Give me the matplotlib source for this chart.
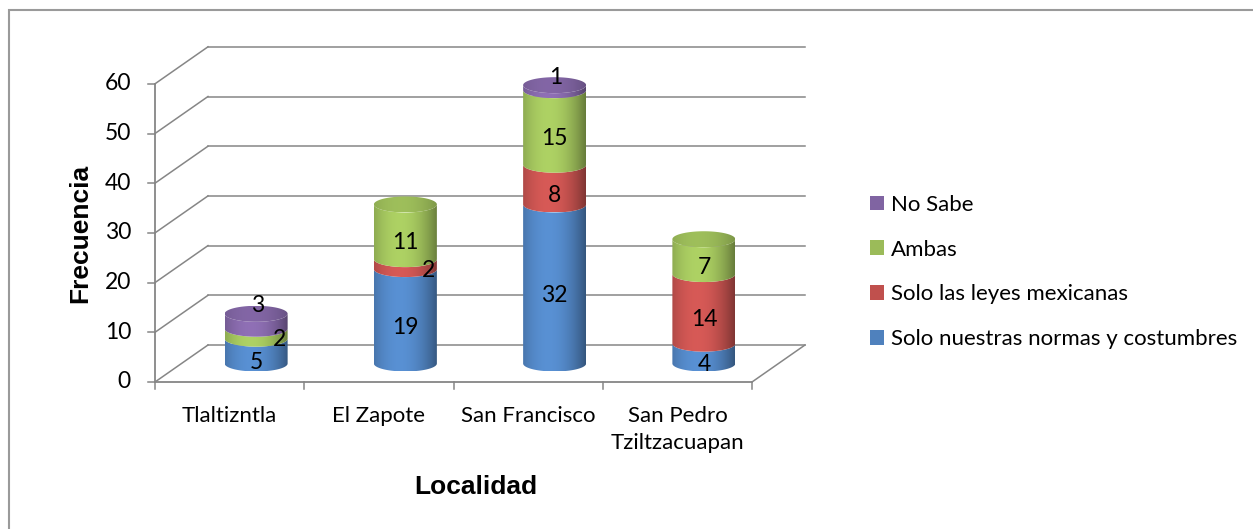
import numpy as np
import matplotlib
matplotlib.use("Agg")
import matplotlib.pyplot as plt
from matplotlib.patches import Polygon, Patch, Rectangle
from matplotlib.colors import to_rgb

# datos
localidades = ["Tlaltizntla", "El Zapote", "San Francisco", "San Pedro\nTziltzacuapan"]
solo_normas = [5, 19, 32, 4]
solo_leyes = [0, 2, 8, 14]
ambas = [2, 11, 15, 7]
no_sabe = [3, 0, 1, 0]

series = ["Solo nuestras normas y costumbres", "Solo las leyes mexicanas", "Ambas", "No Sabe"]
colores = ["#4F81BD", "#C0504D", "#9BBB59", "#8064A2"]
yticks = [0, 10, 20, 30, 40, 50, 60]

plt.rcParams['font.family'] = ['Lato', 'DejaVu Sans']

W, H = 1253, 529
# escala en pixeles del plano frontal
X0, CAT_W = 155.0, 149.25
Y0, UNIT = 382.0, 4.97
DX = 53 / CAT_W          # profundidad en x
DV = 37 / UNIT           # profundidad en y
R = 31.5 / CAT_W         # radio del cilindro
B = 8 / UNIT             # semieje de la elipse
GRID = "#868686"

fig = plt.figure(figsize=(W / 100, H / 100), dpi=100)
ax = fig.add_axes([0, 0, 1, 1])
xlim = (-X0 / CAT_W - 0.5, (W - X0) / CAT_W - 0.5)
ylim = ((Y0 - H) / UNIT, Y0 / UNIT)


def px_y(y):
    return (Y0 - y) / UNIT


# paredes y rejilla
for t in yticks:
    ax.plot([-0.5 + DX, 3.5 + DX], [t + DV, t + DV], color=GRID, lw=1.1, zorder=1)
    ax.plot([-0.5, -0.5 + DX], [t, t + DV], color=GRID, lw=1.1, zorder=1)
    ax.plot([-0.5 - 7 / CAT_W, -0.5], [t, t], color=GRID, lw=1.1, zorder=1)
    ax.text(-0.5 - 24 / CAT_W, t, str(t), ha="right", va="center", fontsize=16.5)
ax.plot([-0.5, -0.5], [0, 60], color=GRID, lw=1.3, zorder=1)
ax.plot([-0.5, 3.5], [0, 0], color=GRID, lw=1.3, zorder=1)
ax.plot([3.5, 3.5 + DX], [0, DV], color=GRID, lw=1.1, zorder=1)
for k in range(5):
    ax.plot([-0.5 + k, -0.5 + k], [0, -7 / UNIT], color=GRID, lw=1.1, zorder=1)

for i, nombre in enumerate(localidades):
    ax.text(i, px_y(406), nombre, ha="center", va="top", fontsize=16, linespacing=1.45)


def sombra(color, n=200, alto=1.12, caida=0.32):
    t = np.linspace(-1, 1, n)
    f = alto - caida * (t + 0.2) ** 2
    c = np.array(to_rgb(color))
    arr = np.clip(c[None, :] * f[:, None], 0, 1)
    return arr[None, :, :]


def pintar(xy, color, extent, z, **kw):
    poly = Polygon(xy, closed=True, transform=ax.transData, facecolor="none", edgecolor="none")
    ax.add_patch(poly)
    im = ax.imshow(sombra(color, **kw), extent=extent, aspect="auto", origin="lower",
                   zorder=z, interpolation="bilinear")
    im.set_clip_path(poly)


tabla = np.array([solo_normas, solo_leyes, ambas, no_sabe])
th_low = np.linspace(np.pi, 2 * np.pi, 80)
th_full = np.linspace(0, 2 * np.pi, 160)

for i in range(len(localidades)):
    cx = i + DX / 2
    base = DV / 2
    vals = tabla[:, i]
    total = vals.sum()
    ultimo = max(j for j in range(4) if vals[j] > 0)
    acum = 0
    for j in range(4):
        v = vals[j]
        if v == 0:
            continue
        v0, v1 = acum + base, acum + v + base
        xs = cx + R * np.cos(th_low)
        ys = np.sin(th_low) * B
        xy = np.concatenate([np.column_stack([xs, v0 + ys]),
                             np.column_stack([xs[::-1], v1 + ys[::-1]])])
        pintar(xy, colores[j], [cx - R, cx + R, v0 - B, v1 + B], 3)

        # etiqueta
        if j == ultimo and v <= 3:
            ax.annotate(str(v), (cx, v1 + B), xytext=(1, 0), textcoords="offset points",
                        ha="center", va="center", fontsize=16.5, zorder=10)
        elif v <= 2:
            ax.annotate(str(v), (cx, v0 + v / 2), xytext=(17, -4.5), textcoords="offset points",
                        ha="center", va="center", fontsize=16.5, zorder=10)
        else:
            ax.annotate(str(v), (cx, v0 + v / 2), xytext=(0, -8), textcoords="offset points",
                        ha="center", va="center", fontsize=16.5, zorder=10)
        acum += v
    # tapa
    vt = total + base
    xy = np.column_stack([cx + R * np.cos(th_full), vt + B * np.sin(th_full)])
    pintar(xy, colores[ultimo], [cx - R, cx + R, vt - B, vt + B], 4, alto=1.02, caida=0.15)

ax.set_xlim(*xlim)
ax.set_ylim(*ylim)
ax.axis("off")

# titulos de ejes
fig.text(476 / W, 1 - 487 / H, "Localidad", ha="center", va="center", fontsize=19,
         fontweight="bold", family="Liberation Sans")
fig.text(80 / W, 1 - 233 / H, "Frecuencia", ha="center", va="center", fontsize=19,
         fontweight="bold", family="Liberation Sans", rotation=90)

# leyenda
handles = [Patch(facecolor=c) for c in colores[::-1]]
ax.legend(handles, series[::-1], loc="center left", bbox_to_anchor=(870 / W, 1 - 272 / H),
          bbox_transform=fig.transFigure, frameon=False, fontsize=16, borderpad=0,
          handlelength=0.63, handleheight=0.63, handletextpad=0.3, labelspacing=1.12,
          borderaxespad=0)

# borde
fig.patches.append(Rectangle((8.5 / W, -0.1), 1.2, 1.1 - 9.5 / H, transform=fig.transFigure,
                             facecolor="none", edgecolor="#9a9a9a", lw=1.5))

fig.savefig("out.png", dpi=100, facecolor="white")
